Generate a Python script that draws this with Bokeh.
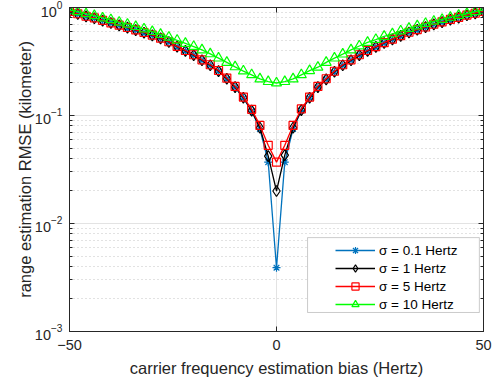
import numpy as np
from bokeh.plotting import figure
from bokeh.models import (FixedTicker, LinearAxis, LogAxis, Legend, LegendItem,
                          BoxAnnotation, Range1d, CustomJSTickFormatter)
from bokeh.embed import file_html
from bokeh.resources import INLINE

# ---------------- data ----------------
bias = list(range(-50, 51, 2))  # carrier frequency estimation bias (Hertz)

rmse_s01 = [0.915, 0.87, 0.827, 0.794, 0.756, 0.717, 0.682, 0.649, 0.616, 0.583,
            0.551, 0.516, 0.478, 0.433, 0.396, 0.361, 0.324, 0.291, 0.257, 0.218,
            0.182, 0.145, 0.110, 0.075, 0.037,
            0.0039,
            0.037, 0.075, 0.111, 0.145, 0.182, 0.215, 0.253, 0.291, 0.324, 0.361,
            0.396, 0.431, 0.468, 0.506, 0.546, 0.586, 0.621, 0.656, 0.696, 0.731,
            0.771, 0.806, 0.846, 0.881, 0.916]

rmse_s1 = [0.915, 0.87, 0.828, 0.795, 0.757, 0.718, 0.683, 0.65, 0.617, 0.584,
           0.552, 0.517, 0.479, 0.434, 0.397, 0.362, 0.325, 0.292, 0.258, 0.219,
           0.183, 0.146, 0.111, 0.077, 0.042,
           0.020,
           0.043, 0.077, 0.112, 0.146, 0.183, 0.216, 0.254, 0.292, 0.325, 0.362,
           0.397, 0.432, 0.469, 0.507, 0.547, 0.587, 0.622, 0.657, 0.697, 0.732,
           0.772, 0.807, 0.847, 0.882, 0.917]

rmse_s5 = [0.92, 0.875, 0.83, 0.80, 0.76, 0.72, 0.686, 0.653, 0.62, 0.587,
           0.555, 0.52, 0.482, 0.437, 0.40, 0.365, 0.328, 0.295, 0.261, 0.222,
           0.186, 0.148, 0.114, 0.081, 0.053,
           0.037,
           0.053, 0.081, 0.115, 0.148, 0.186, 0.219, 0.257, 0.295, 0.328, 0.365,
           0.40, 0.435, 0.472, 0.51, 0.55, 0.59, 0.625, 0.66, 0.70, 0.735,
           0.775, 0.81, 0.85, 0.885, 0.92]

rmse_s10 = [0.95, 0.915, 0.875, 0.84, 0.80, 0.77, 0.73, 0.70, 0.665, 0.632,
            0.598, 0.563, 0.53, 0.497, 0.465, 0.435, 0.405, 0.372, 0.34, 0.31,
            0.282, 0.258, 0.238, 0.218, 0.206,
            0.200,
            0.206, 0.218, 0.238, 0.26, 0.28, 0.31, 0.34, 0.37, 0.405, 0.44,
            0.475, 0.505, 0.54, 0.57, 0.605, 0.64, 0.675, 0.71, 0.745, 0.775,
            0.81, 0.845, 0.88, 0.915, 0.95]

series_labels = ["σ = 0.1 Hertz", "σ = 1 Hertz", "σ = 5 Hertz", "σ = 10 Hertz"]

x_ticks = [-50, 0, 50]
y_major = [1e-3, 1e-2, 1e-1, 1e0]
y_minor = [m * 10.0 ** e for e in (-3, -2, -1) for m in range(2, 10)]

# ---------------- styling ----------------
FONT = "Liberation Sans"
AX = "#262626"

p = figure(width=497, height=386, output_backend="svg", toolbar_location=None,
           y_axis_type="log", x_range=Range1d(-50, 50), y_range=Range1d(1e-3, 1),
           min_border_left=69, min_border_right=14, min_border_top=7, min_border_bottom=55,
           background_fill_color="white", border_fill_color="white")
p.outline_line_color = AX
p.outline_line_width = 1

# grids
p.xgrid.ticker = FixedTicker(ticks=x_ticks)
p.xgrid.grid_line_color = "#E3E3E3"
p.xgrid.grid_line_width = 1
p.ygrid.ticker = FixedTicker(ticks=y_major, minor_ticks=y_minor)
p.ygrid.grid_line_color = "#E3E3E3"
p.ygrid.grid_line_width = 1
p.ygrid.minor_grid_line_color = "#C4C4C4"
p.ygrid.minor_grid_line_dash = "1 3"
p.ygrid.minor_grid_line_width = 1

blank = CustomJSTickFormatter(code="return ''")

def style_axis(ax, show_labels):
    ax.axis_line_color = AX
    ax.major_tick_line_color = AX
    ax.minor_tick_line_color = AX
    ax.major_tick_in = 5
    ax.major_tick_out = 0
    ax.minor_tick_in = 3
    ax.minor_tick_out = 0
    ax.major_label_text_color = AX
    ax.major_label_text_font = FONT
    if not show_labels:
        ax.formatter = blank
        ax.major_label_standoff = 0

# bottom axis
xa = p.xaxis[0]
xa.ticker = FixedTicker(ticks=x_ticks)
style_axis(xa, True)
xa.major_label_text_font_size = "14.5px"
xa.major_label_standoff = 8
xa.axis_label = "carrier frequency estimation bias (Hertz)"
xa.axis_label_text_font = FONT
xa.axis_label_text_font_size = "16.5px"
xa.axis_label_text_font_style = "normal"
xa.axis_label_text_color = AX
xa.axis_label_standoff = 6

# left axis (default log formatter draws 10 with raised exponent)
ya = p.yaxis[0]
ya.ticker = FixedTicker(ticks=y_major, minor_ticks=y_minor)
style_axis(ya, True)
ya.major_label_text_font_size = "14.5px"
ya.major_label_standoff = 7
ya.axis_label = "range estimation RMSE (kilometer)"
ya.axis_label_text_font = FONT
ya.axis_label_text_font_size = "16.5px"
ya.axis_label_text_font_style = "normal"
ya.axis_label_text_color = AX
ya.axis_label_standoff = -2

# top and right axes (box on)
ta = LinearAxis(ticker=FixedTicker(ticks=x_ticks))
style_axis(ta, False)
p.add_layout(ta, "above")
ra = LogAxis(ticker=FixedTicker(ticks=y_major, minor_ticks=y_minor))
style_axis(ra, False)
p.add_layout(ra, "right")

# ---------------- series ----------------
specs = [
    (rmse_s01, "#0072BD", "asterisk", 8),
    (rmse_s1, "#000000", "diamond", 11),
    (rmse_s5, "#FF0000", "square", 8),
    (rmse_s10, "#00FF00", "triangle", 10),
]
items = []
for (vals, col, mk, sz), lab in zip(specs, series_labels):
    lr = p.line(bias, vals, line_color=col, line_width=1.3)
    sr = p.scatter(bias, vals, marker=mk, size=sz, line_color=col, fill_color=None,
                   line_width=1.2)
    items.append(LegendItem(label=lab, renderers=[lr, sr]))

# legend box
box = BoxAnnotation(left=7.5, right=49.0, top=0.0074, bottom=0.00150,
                    fill_color="white", fill_alpha=1.0, line_color=AX, line_width=0.8)
p.add_layout(box)

legend = Legend(items=items, location=(266, 18), padding=0, spacing=0, margin=0,
                label_height=18, glyph_height=18, glyph_width=40, label_standoff=4,
                border_line_alpha=0, background_fill_alpha=0,
                label_text_font=FONT, label_text_font_size="13.5px", label_text_color="#000000")
p.add_layout(legend)

open("out.html", "w").write(file_html(p, INLINE))
